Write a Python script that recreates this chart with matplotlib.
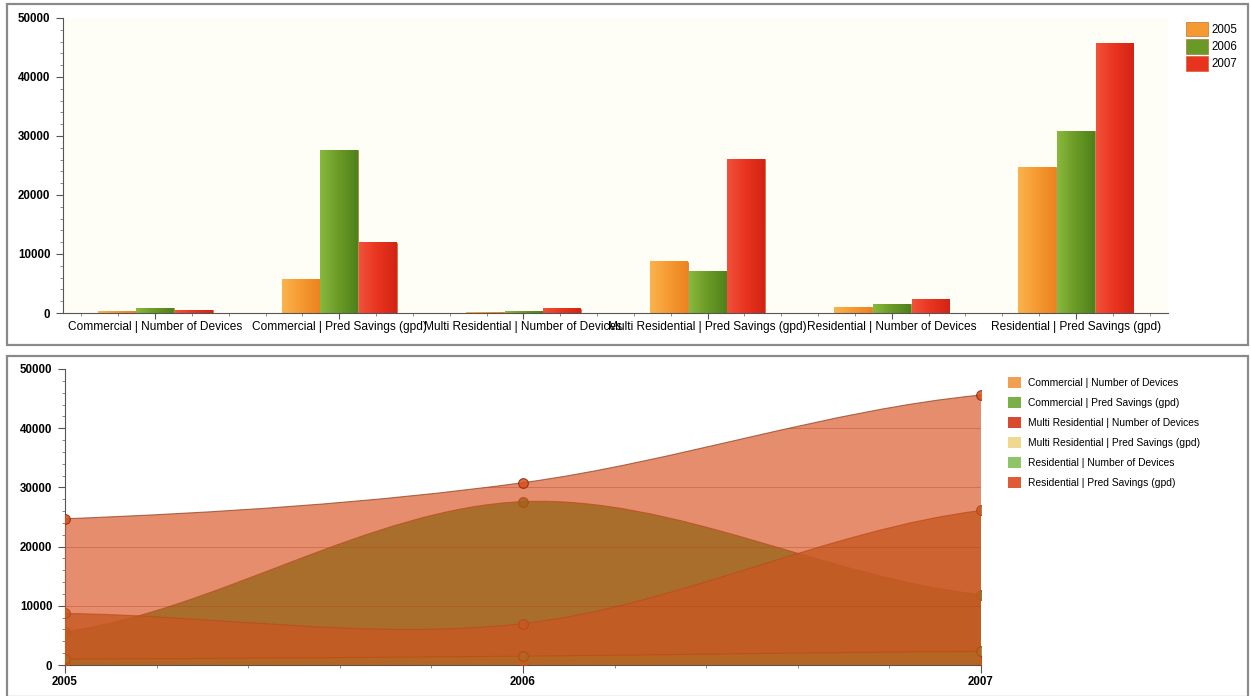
import matplotlib
matplotlib.use("Agg")
import matplotlib.pyplot as plt
from matplotlib.path import Path
from matplotlib.patches import PathPatch, Patch, Rectangle
from matplotlib.ticker import MultipleLocator
from matplotlib.colors import LinearSegmentedColormap
import numpy as np

plt.rcParams["font.family"] = ["Liberation Sans", "DejaVu Sans"]

# data
categories = ["Commercial | Number of Devices", "Commercial | Pred Savings (gpd)",
              "Multi Residential | Number of Devices", "Multi Residential | Pred Savings (gpd)",
              "Residential | Number of Devices", "Residential | Pred Savings (gpd)"]
years = [2005, 2006, 2007]
vals_2005 = [200, 5600, 100, 8700, 1000, 24700]
vals_2006 = [800, 27600, 200, 7000, 1500, 30800]
vals_2007 = [500, 11900, 700, 26100, 2300, 45600]

bar_colors = ["#f59a32", "#6a9a26", "#e8341f"]
bar_light = ["#fbb24c", "#88b83c", "#f2503a"]
bar_dark = ["#ec8420", "#4e821a", "#d42416"]
# fill colours for the area chart, and the legend icon colours
area_colors = ["#f09632", "#2d911a", "#c83c1e", "#aa692d", "#6e9628", "#d7501e"]
icon_colors = ["#f0a050", "#7ab048", "#d84a30", "#f0d890", "#90c468", "#e05a38"]


def smooth(xs, ys):
    # cardinal spline through the points, drawn as bezier segments
    n = len(xs)
    m = []
    for i in range(n):
        lo = max(i - 1, 0)
        hi = min(i + 1, n - 1)
        slope = (ys[hi] - ys[lo]) / (xs[hi] - xs[lo])
        if i in (0, n - 1):
            slope *= 0.5
        m.append(slope)
    verts = [(xs[0], ys[0])]
    codes = [Path.MOVETO]
    for i in range(n - 1):
        dx = xs[i + 1] - xs[i]
        verts += [(xs[i] + dx / 3, ys[i] + m[i] * dx / 3),
                  (xs[i + 1] - dx / 3, ys[i + 1] - m[i + 1] * dx / 3),
                  (xs[i + 1], ys[i + 1])]
        codes += [Path.CURVE4] * 3
    return verts, codes


def style_axis(ax):
    for s in ["top", "right"]:
        ax.spines[s].set_visible(False)
    ax.spines["left"].set_color("#555555")
    ax.spines["bottom"].set_color("#555555")
    ax.set_yticks([0, 10000, 20000, 30000, 40000, 50000])
    ax.yaxis.set_minor_locator(MultipleLocator(2000))
    ax.tick_params(axis="y", length=5, width=0.8, color="#555555", labelsize=8.3, pad=4)
    ax.tick_params(which="minor", length=2.5, color="#777777")
    for lab in ax.get_yticklabels():
        lab.set_fontweight("bold")


def main():
    fig = plt.figure(figsize=(12.51, 6.96), dpi=100)
    W, H = 1251.0, 696.0

    # panel frames
    fig.patches.append(Rectangle((7 / W, 1 - 345 / H), 1241 / W, 341 / H, transform=fig.transFigure,
                                 fill=False, edgecolor="#8a8a8a", lw=1.6))
    fig.patches.append(Rectangle((7 / W, 1 - 697 / H), 1241 / W, 341 / H, transform=fig.transFigure,
                                 fill=False, edgecolor="#8a8a8a", lw=1.6))

    # ---------------- top: grouped bars ----------------
    ax1 = fig.add_axes([63 / W, 1 - 313 / H, 1105 / W, 295 / H])
    ax1.set_facecolor("#fffef6")
    x = np.arange(len(categories))
    w = 0.205
    series = [vals_2005, vals_2006, vals_2007]
    grad = np.linspace(0, 1, 32).reshape(1, -1)
    for k, vals in enumerate(series):
        bars = ax1.bar(x + (k - 1) * 0.21, vals, w, color=bar_colors[k], edgecolor="#b85a20",
                       linewidth=0.4, label=str(years[k]), zorder=2)
        cmap = LinearSegmentedColormap.from_list("g%d" % k, [bar_light[k], bar_colors[k], bar_dark[k]])
        for r in bars:
            ax1.imshow(grad, cmap=cmap, aspect="auto", zorder=2.5,
                       extent=[r.get_x(), r.get_x() + r.get_width(), 0, r.get_height()])
    ax1.set_xlim(-0.5, 5.5)
    ax1.set_ylim(0, 50000)
    ax1.set_xticks(x)
    ax1.set_xticklabels(categories, fontsize=8.6)
    ax1.xaxis.set_minor_locator(MultipleLocator(0.2))
    ax1.tick_params(axis="x", length=4, width=0.8, color="#555555", pad=2)
    style_axis(ax1)
    ax1.legend(loc="upper left", bbox_to_anchor=(1181 / W, 1 - 17 / H), bbox_transform=fig.transFigure,
               frameon=False, fontsize=8.3, handlelength=1.9, handleheight=1.6, handletextpad=0.35,
               labelspacing=0.22, borderaxespad=0)

    # ---------------- bottom: smoothed areas ----------------
    ax2 = fig.add_axes([65 / W, 1 - 665 / H, 916 / W, 296 / H])
    ax2.set_facecolor("white")
    by_series = list(zip(vals_2005, vals_2006, vals_2007))
    top_patch = None
    for i, name in enumerate(categories):
        ys = list(by_series[i])
        verts, codes = smooth(years, ys)
        fill_verts = [(years[0], 0)] + verts + [(years[-1], 0), (years[0], 0)]
        fill_codes = [Path.MOVETO, Path.LINETO] + codes[1:] + [Path.LINETO, Path.CLOSEPOLY]
        p = PathPatch(Path(fill_verts, fill_codes), facecolor=area_colors[i], alpha=0.8 if i < 5 else 0.65,
                      edgecolor="none", zorder=2 + i)
        ax2.add_patch(p)
        ax2.add_patch(PathPatch(Path(verts, codes), fill=False, edgecolor="#8a3a1a", lw=0.8, alpha=0.7,
                                zorder=2 + i))
        ax2.plot(years, ys, "o", ms=7, mfc=area_colors[i], mec="#8a2a10", mew=0.8, alpha=0.85,
                 zorder=2 + i)
        top_patch = p
    # faint grid lines, only seen over the filled area
    for gy in [10000, 20000, 30000, 40000]:
        ln = ax2.axhline(gy, color="#b03a18", lw=0.7, alpha=0.35, zorder=9)
        ln.set_clip_path(top_patch)

    ax2.set_xlim(2005, 2007)
    ax2.set_ylim(0, 50000)
    ax2.set_xticks(years)
    ax2.set_xticklabels([str(y) for y in years], fontsize=8.3)
    ax2.xaxis.set_minor_locator(MultipleLocator(0.2))
    ax2.tick_params(axis="x", length=6, width=0.8, color="#555555", pad=2)
    style_axis(ax2)
    for lab in ax2.get_xticklabels():
        lab.set_fontweight("bold")

    handles = [Patch(facecolor=c, edgecolor="none") for c in icon_colors]
    ax2.legend(handles, categories, loc="upper left", bbox_to_anchor=(1004 / W, 1 - 373 / H),
               bbox_transform=fig.transFigure, frameon=False, fontsize=7.4, handlelength=1.3,
               handleheight=1.3, handletextpad=0.6, labelspacing=0.85, borderaxespad=0)

    plt.savefig("out.png", dpi=100)


if __name__ == "__main__":
    main()
